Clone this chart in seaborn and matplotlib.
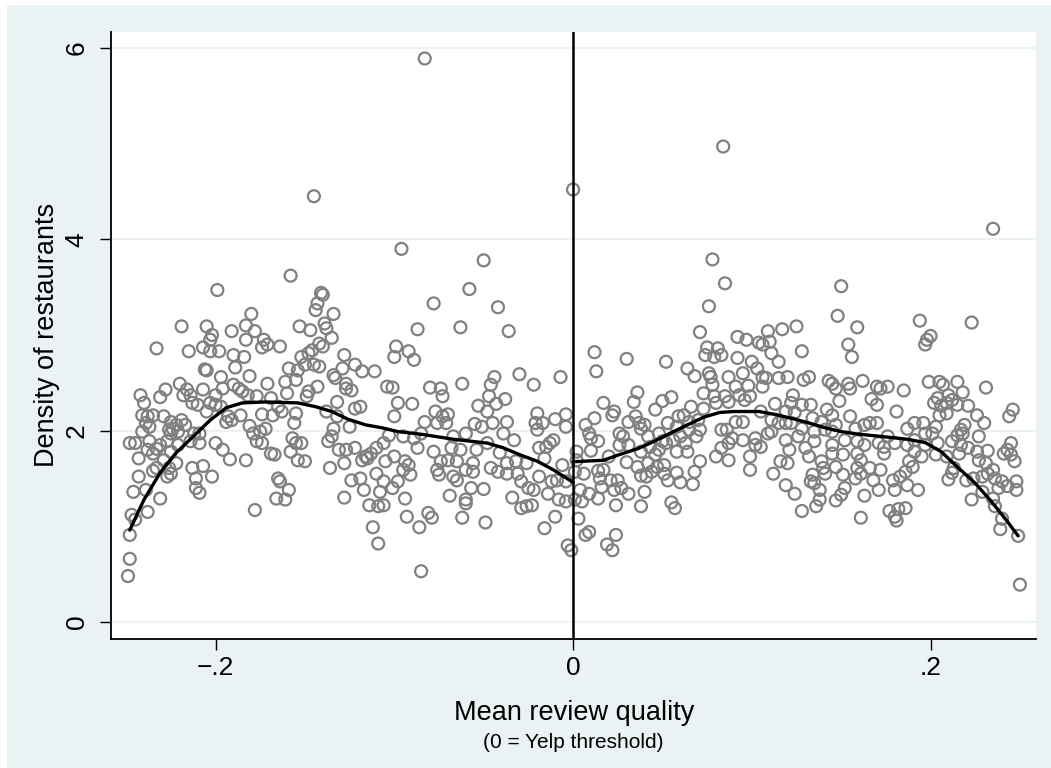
import pandas as pd
import seaborn as sns
from matplotlib import pyplot as plt
from matplotlib.patches import Rectangle

# restaurant density by mean review quality (x, y)
pts_far_left = [
    (-0.199, 3.47), (-0.180, 3.22), (-0.219, 3.09), (-0.205, 3.09), (-0.191, 3.04), (-0.183, 3.10),
    (-0.202, 3.00), (-0.203, 2.95), (-0.178, 3.04), (-0.173, 2.95), (-0.174, 2.87), (-0.171, 2.90),
    (-0.233, 2.86), (-0.215, 2.83), (-0.207, 2.87), (-0.203, 2.83), (-0.198, 2.83), (-0.190, 2.79),
    (-0.184, 2.77), (-0.183, 2.95), (-0.189, 2.66), (-0.205, 2.63), (-0.206, 2.64), (-0.197, 2.56),
    (-0.181, 2.57), (-0.220, 2.49), (-0.228, 2.43), (-0.231, 2.35), (-0.242, 2.37), (-0.240, 2.29),
    (-0.216, 2.43), (-0.214, 2.37), (-0.218, 2.37), (-0.213, 2.29), (-0.210, 2.27), (-0.207, 2.43),
    (-0.200, 2.37), (-0.196, 2.44), (-0.190, 2.48), (-0.187, 2.44), (-0.185, 2.41), (-0.182, 2.37),
    (-0.171, 2.49), (-0.177, 2.36), (-0.203, 2.29), (-0.200, 2.27), (-0.197, 2.25), (-0.205, 2.20),
    (-0.193, 2.15), (-0.194, 2.09), (-0.191, 2.11), (-0.186, 2.16), (-0.174, 2.17), (-0.181, 2.05),
    (-0.179, 1.97), (-0.175, 1.99), (-0.172, 2.02), (-0.177, 1.89), (-0.174, 1.87), (-0.241, 2.16),
    (-0.238, 2.15), (-0.235, 2.16), (-0.229, 2.15), (-0.239, 2.08), (-0.237, 2.04), (-0.241, 1.99),
    (-0.225, 2.09), (-0.224, 2.02), (-0.222, 2.06), (-0.219, 2.11), (-0.217, 2.06), (-0.226, 2.01),
    (-0.225, 1.97), (-0.221, 1.99), (-0.212, 1.97), (-0.209, 1.97), (-0.214, 1.89), (-0.209, 1.87),
    (-0.248, 1.87), (-0.245, 1.87), (-0.237, 1.89), (-0.231, 1.85), (-0.238, 1.80), (-0.233, 1.81),
    (-0.227, 1.89), (-0.221, 1.85), (-0.243, 1.71), (-0.235, 1.76), (-0.225, 1.78), (-0.229, 1.69),
    (-0.233, 1.61), (-0.235, 1.58), (-0.226, 1.61), (-0.222, 1.66), (-0.227, 1.52), (-0.225, 1.55),
    (-0.243, 1.52), (-0.213, 1.61), (-0.207, 1.63), (-0.211, 1.50), (-0.202, 1.52), (-0.211, 1.40),
    (-0.209, 1.35), (-0.200, 1.87), (-0.196, 1.80), (-0.192, 1.70), (-0.183, 1.69), (-0.246, 1.36),
    (-0.239, 1.38), (-0.231, 1.29), (-0.238, 1.15), (-0.247, 1.12), (-0.245, 1.07), (-0.248, 0.91),
    (-0.248, 0.66), (-0.249, 0.48), (-0.178, 1.17),
]

pts_mid_left = [
    (-0.158, 3.62), (-0.141, 3.44), (-0.140, 3.42), (-0.143, 3.33), (-0.144, 3.26), (-0.134, 3.22),
    (-0.153, 3.09), (-0.147, 3.05), (-0.139, 3.12), (-0.138, 3.07), (-0.135, 2.97), (-0.087, 3.06),
    (-0.164, 2.88), (-0.142, 2.91), (-0.140, 2.88), (-0.146, 2.84), (-0.148, 2.81), (-0.152, 2.77),
    (-0.128, 2.79), (-0.099, 2.88), (-0.100, 2.77), (-0.092, 2.83), (-0.089, 2.74), (-0.159, 2.65),
    (-0.154, 2.63), (-0.150, 2.69), (-0.145, 2.69), (-0.142, 2.67), (-0.129, 2.65), (-0.122, 2.69),
    (-0.118, 2.62), (-0.111, 2.62), (-0.134, 2.58), (-0.133, 2.55), (-0.161, 2.51), (-0.155, 2.53),
    (-0.127, 2.49), (-0.127, 2.44), (-0.124, 2.42), (-0.143, 2.46), (-0.148, 2.41), (-0.149, 2.36),
    (-0.160, 2.39), (-0.104, 2.46), (-0.101, 2.45), (-0.169, 2.34), (-0.165, 2.25), (-0.163, 2.20),
    (-0.168, 2.16), (-0.155, 2.18), (-0.156, 2.08), (-0.132, 2.30), (-0.122, 2.23), (-0.119, 2.25),
    (-0.138, 2.20), (-0.132, 2.15), (-0.098, 2.29), (-0.090, 2.28), (-0.100, 2.15), (-0.125, 2.04),
    (-0.134, 2.02), (-0.157, 1.92), (-0.155, 1.87), (-0.152, 1.87), (-0.158, 1.78), (-0.154, 1.69),
    (-0.150, 1.68), (-0.169, 1.76), (-0.167, 1.75), (-0.137, 1.89), (-0.135, 1.94), (-0.131, 1.80),
    (-0.127, 1.80), (-0.122, 1.82), (-0.116, 1.73), (-0.113, 1.76), (-0.110, 1.82), (-0.106, 1.87),
    (-0.103, 1.95), (-0.095, 1.94), (-0.089, 1.92), (-0.085, 1.97), (-0.087, 1.82), (-0.136, 1.61),
    (-0.128, 1.66), (-0.118, 1.69), (-0.115, 1.71), (-0.105, 1.68), (-0.100, 1.73), (-0.094, 1.68),
    (-0.092, 1.64), (-0.095, 1.59), (-0.091, 1.54), (-0.124, 1.48), (-0.119, 1.50), (-0.117, 1.38),
    (-0.110, 1.55), (-0.106, 1.47), (-0.101, 1.40), (-0.098, 1.47), (-0.108, 1.36), (-0.165, 1.50),
    (-0.164, 1.47), (-0.159, 1.38), (-0.166, 1.29), (-0.161, 1.28), (-0.128, 1.30), (-0.114, 1.22),
    (-0.109, 1.21), (-0.106, 1.22), (-0.094, 1.29), (-0.093, 1.10), (-0.086, 0.99), (-0.112, 0.99),
    (-0.109, 0.82), (-0.085, 0.53),
]

pts_near_left = [
    (-0.058, 3.48), (-0.078, 3.33), (-0.042, 3.29), (-0.063, 3.08), (-0.036, 3.04), (-0.030, 2.59),
    (-0.007, 2.56), (-0.044, 2.56), (-0.046, 2.48), (-0.080, 2.45), (-0.074, 2.44), (-0.062, 2.49),
    (-0.022, 2.48), (-0.073, 2.36), (-0.047, 2.36), (-0.038, 2.33), (-0.053, 2.26), (-0.043, 2.28),
    (-0.048, 2.20), (-0.077, 2.20), (-0.070, 2.17), (-0.073, 2.15), (-0.083, 2.09), (-0.076, 2.08),
    (-0.071, 2.08), (-0.055, 2.07), (-0.051, 2.04), (-0.045, 2.08), (-0.037, 2.09), (-0.020, 2.18),
    (-0.021, 2.08), (-0.017, 2.08), (-0.020, 2.01), (-0.010, 2.12), (-0.004, 2.17), (-0.004, 2.04),
    (-0.067, 1.94), (-0.060, 1.97), (-0.048, 1.87), (-0.039, 1.97), (-0.033, 1.90), (-0.011, 1.90),
    (-0.013, 1.87), (-0.015, 1.83), (-0.019, 1.82), (-0.078, 1.78), (-0.068, 1.82), (-0.063, 1.80),
    (-0.054, 1.80), (-0.041, 1.77), (-0.074, 1.68), (-0.070, 1.69), (-0.065, 1.68), (-0.056, 1.66),
    (-0.076, 1.59), (-0.075, 1.54), (-0.060, 1.59), (-0.056, 1.57), (-0.067, 1.52), (-0.065, 1.48),
    (-0.046, 1.61), (-0.042, 1.57), (-0.037, 1.55), (-0.037, 1.66), (-0.032, 1.68), (-0.026, 1.66),
    (-0.031, 1.55), (-0.029, 1.47), (-0.025, 1.40), (-0.022, 1.38), (-0.019, 1.52), (-0.016, 1.71),
    (-0.006, 1.64), (-0.009, 1.48), (-0.004, 1.47), (-0.012, 1.47), (-0.014, 1.34), (-0.008, 1.28),
    (-0.004, 1.26), (-0.050, 1.39), (-0.057, 1.40), (-0.069, 1.32), (-0.060, 1.28), (-0.060, 1.24),
    (-0.034, 1.30), (-0.029, 1.19), (-0.026, 1.21), (-0.023, 1.22), (-0.010, 1.10), (-0.016, 0.98),
    (-0.049, 1.04), (-0.062, 1.09), (-0.081, 1.14), (-0.079, 1.09), (-0.003, 0.80), (-0.001, 0.75),
]

pts_near_right = [
    (0.085, 3.54), (0.076, 3.30), (0.071, 3.03), (0.075, 2.87), (0.081, 2.86), (0.074, 2.79),
    (0.079, 2.77), (0.083, 2.79), (0.012, 2.82), (0.013, 2.62), (0.030, 2.75), (0.052, 2.72),
    (0.064, 2.65), (0.068, 2.57), (0.076, 2.60), (0.077, 2.56), (0.087, 2.56), (0.078, 2.48),
    (0.073, 2.39), (0.036, 2.40), (0.034, 2.30), (0.050, 2.31), (0.055, 2.35), (0.046, 2.22),
    (0.017, 2.29), (0.023, 2.20), (0.022, 2.16), (0.035, 2.15), (0.066, 2.25), (0.073, 2.23),
    (0.080, 2.29), (0.079, 2.36), (0.085, 2.36), (0.087, 2.30), (0.007, 2.06), (0.012, 2.13),
    (0.031, 2.09), (0.037, 2.08), (0.040, 2.06), (0.038, 2.02), (0.053, 2.08), (0.059, 2.15),
    (0.062, 2.16), (0.065, 2.09), (0.070, 2.11), (0.065, 2.01), (0.058, 2.04), (0.009, 1.97),
    (0.010, 1.92), (0.014, 1.89), (0.010, 1.79), (0.026, 1.97), (0.028, 1.94), (0.026, 1.85),
    (0.031, 1.85), (0.042, 1.94), (0.048, 1.97), (0.050, 1.89), (0.043, 1.83), (0.052, 1.87),
    (0.056, 1.90), (0.060, 1.94), (0.063, 1.87), (0.069, 1.94), (0.071, 2.01), (0.083, 2.01),
    (0.086, 2.01), (0.087, 1.87), (0.083, 1.82), (0.080, 1.73), (0.087, 1.69), (0.002, 1.78),
    (0.002, 1.69), (0.020, 1.73), (0.038, 1.78), (0.046, 1.75), (0.048, 1.80), (0.058, 1.78),
    (0.064, 1.78), (0.071, 1.68), (0.030, 1.67), (0.036, 1.62), (0.042, 1.66), (0.047, 1.62),
    (0.051, 1.64), (0.044, 1.57), (0.041, 1.52), (0.038, 1.53), (0.051, 1.55), (0.058, 1.56),
    (0.068, 1.57), (0.001, 1.57), (0.006, 1.55), (0.014, 1.58), (0.017, 1.59), (0.015, 1.50),
    (0.021, 1.48), (0.025, 1.48), (0.016, 1.41), (0.023, 1.38), (0.027, 1.40), (0.031, 1.34),
    (0.053, 1.48), (0.060, 1.46), (0.067, 1.44), (0.004, 1.38), (0.009, 1.34), (0.014, 1.29),
    (0.001, 1.28), (0.005, 1.26), (0.040, 1.36), (0.024, 1.22), (0.038, 1.21), (0.055, 1.25),
    (0.057, 1.19), (0.003, 1.08), (0.009, 0.94), (0.007, 0.91), (0.024, 0.91), (0.019, 0.81),
    (0.022, 0.75),
]

pts_mid_right = [
    (0.150, 3.51), (0.148, 3.20), (0.159, 3.08), (0.125, 3.09), (0.117, 3.06), (0.109, 3.04),
    (0.092, 2.98), (0.097, 2.95), (0.104, 2.92), (0.106, 2.90), (0.110, 2.93), (0.128, 2.83),
    (0.154, 2.90), (0.156, 2.77), (0.111, 2.81), (0.092, 2.76), (0.100, 2.72), (0.115, 2.72),
    (0.103, 2.65), (0.095, 2.60), (0.106, 2.56), (0.108, 2.55), (0.115, 2.55), (0.120, 2.56),
    (0.129, 2.53), (0.132, 2.56), (0.143, 2.52), (0.145, 2.49), (0.147, 2.44), (0.154, 2.49),
    (0.155, 2.44), (0.162, 2.52), (0.170, 2.46), (0.172, 2.44), (0.091, 2.46), (0.098, 2.47),
    (0.106, 2.46), (0.093, 2.37), (0.099, 2.36), (0.123, 2.37), (0.149, 2.31), (0.167, 2.33),
    (0.170, 2.27), (0.096, 2.32), (0.113, 2.28), (0.122, 2.29), (0.128, 2.27), (0.133, 2.27),
    (0.105, 2.20), (0.119, 2.20), (0.124, 2.19), (0.142, 2.22), (0.145, 2.16), (0.155, 2.15),
    (0.091, 2.09), (0.095, 2.09), (0.111, 2.11), (0.115, 2.08), (0.119, 2.08), (0.122, 2.08),
    (0.134, 2.13), (0.139, 2.09), (0.141, 2.01), (0.147, 2.06), (0.158, 2.02), (0.163, 2.06),
    (0.166, 2.08), (0.170, 2.08), (0.109, 1.97), (0.111, 1.99), (0.128, 2.02), (0.135, 1.99),
    (0.145, 1.99), (0.089, 1.92), (0.095, 1.90), (0.102, 1.92), (0.105, 1.83), (0.102, 1.85),
    (0.119, 1.90), (0.126, 1.94), (0.135, 1.89), (0.152, 1.90), (0.159, 1.89), (0.163, 1.85),
    (0.171, 1.87), (0.174, 1.83), (0.099, 1.73), (0.121, 1.80), (0.130, 1.82), (0.132, 1.73),
    (0.145, 1.85), (0.145, 1.76), (0.151, 1.75), (0.159, 1.76), (0.161, 1.69), (0.116, 1.68),
    (0.120, 1.66), (0.139, 1.68), (0.140, 1.61), (0.147, 1.62), (0.159, 1.61), (0.166, 1.61),
    (0.172, 1.59), (0.099, 1.59), (0.112, 1.55), (0.134, 1.54), (0.141, 1.55), (0.151, 1.54),
    (0.158, 1.50), (0.161, 1.55), (0.168, 1.48), (0.133, 1.47), (0.135, 1.45), (0.119, 1.43),
    (0.124, 1.34), (0.138, 1.38), (0.152, 1.40), (0.150, 1.33), (0.147, 1.27), (0.163, 1.32),
    (0.171, 1.38), (0.138, 1.28), (0.136, 1.21), (0.128, 1.16), (0.161, 1.09),
]

pts_far_right = [
    (0.194, 3.15), (0.223, 3.13), (0.200, 2.99), (0.198, 2.95), (0.197, 2.90), (0.199, 2.51),
    (0.205, 2.51), (0.207, 2.48), (0.215, 2.51), (0.231, 2.45), (0.176, 2.46), (0.185, 2.42),
    (0.204, 2.34), (0.210, 2.37), (0.212, 2.32), (0.218, 2.40), (0.202, 2.29), (0.206, 2.26),
    (0.209, 2.29), (0.215, 2.27), (0.221, 2.26), (0.181, 2.20), (0.205, 2.16), (0.209, 2.18),
    (0.226, 2.16), (0.230, 2.08), (0.246, 2.22), (0.244, 2.15), (0.187, 2.02), (0.191, 2.08),
    (0.196, 2.08), (0.203, 2.04), (0.201, 1.97), (0.197, 1.97), (0.219, 2.06), (0.217, 2.01),
    (0.218, 1.97), (0.215, 1.95), (0.227, 1.94), (0.176, 1.94), (0.174, 1.76), (0.180, 1.87),
    (0.187, 1.85), (0.191, 1.90), (0.197, 1.85), (0.204, 1.87), (0.212, 1.89), (0.217, 1.85),
    (0.221, 1.82), (0.191, 1.78), (0.195, 1.73), (0.203, 1.75), (0.209, 1.73), (0.216, 1.76),
    (0.226, 1.78), (0.232, 1.79), (0.227, 1.69), (0.231, 1.66), (0.245, 1.87), (0.243, 1.80),
    (0.241, 1.76), (0.245, 1.75), (0.247, 1.68), (0.188, 1.68), (0.190, 1.62), (0.186, 1.57),
    (0.213, 1.61), (0.212, 1.56), (0.235, 1.59), (0.232, 1.55), (0.236, 1.50), (0.183, 1.52),
    (0.179, 1.48), (0.210, 1.49), (0.220, 1.48), (0.224, 1.50), (0.229, 1.52), (0.240, 1.47),
    (0.243, 1.42), (0.248, 1.47), (0.248, 1.38), (0.238, 1.40), (0.180, 1.38), (0.187, 1.43),
    (0.193, 1.38), (0.223, 1.28), (0.229, 1.36), (0.235, 1.29), (0.236, 1.21), (0.177, 1.16),
    (0.182, 1.18), (0.186, 1.19), (0.180, 1.10), (0.181, 1.06), (0.240, 1.08), (0.239, 0.97),
    (0.249, 0.90), (0.250, 0.39),
]

pts_outliers = [
    (-0.083, 5.89), (-0.145, 4.45), (-0.096, 3.90), (-0.050, 3.78), (0.000, 4.52),
    (0.084, 4.97), (0.235, 4.11), (0.078, 3.79),
]

# smoothed fit on each side of the threshold
fit_left_x = [-0.248, -0.240, -0.231, -0.222, -0.213, -0.203, -0.194, -0.185, -0.172, -0.154,
              -0.144, -0.135, -0.126, -0.116, -0.107, -0.098, -0.084, -0.067, -0.048, -0.039,
              -0.030, -0.020, -0.011, 0.0]
fit_left_y = [0.96, 1.28, 1.56, 1.77, 1.93, 2.11, 2.24, 2.29, 2.30, 2.29, 2.25, 2.20, 2.12, 2.06,
              2.03, 1.99, 1.96, 1.91, 1.87, 1.82, 1.75, 1.68, 1.59, 1.46]
fit_right_x = [0.0, 0.017, 0.026, 0.036, 0.045, 0.054, 0.064, 0.073, 0.082, 0.090, 0.104, 0.113,
               0.122, 0.132, 0.141, 0.150, 0.159, 0.172, 0.187, 0.197, 0.206, 0.215, 0.225,
               0.234, 0.243, 0.249]
fit_right_y = [1.675, 1.69, 1.75, 1.81, 1.885, 1.97, 2.06, 2.14, 2.19, 2.20, 2.20, 2.17, 2.13,
               2.08, 2.03, 1.99, 1.965, 1.94, 1.91, 1.875, 1.78, 1.62, 1.45, 1.26, 1.05, 0.90]

y_ticks = [0, 2, 4, 6]
x_ticks = [-0.2, 0.0, 0.2]
x_tick_labels = ["\u2212.2", "0", ".2"]

sns.set_theme(style="white")
plt.rcParams['font.family'] = ['Liberation Sans', 'DejaVu Sans']
plt.rcParams['text.color'] = 'black'

panel = "#eaf2f3"
all_pts = (pts_far_left + pts_mid_left + pts_near_left + pts_near_right
           + pts_mid_right + pts_far_right + pts_outliers)
df = pd.DataFrame(all_pts, columns=["quality", "density"])

fig = plt.figure(figsize=(10.51, 7.68), dpi=100)
fig.patch.set_facecolor("white")
bg = Rectangle((7 / 1051, 0), 1 - 7 / 1051, 1 - 5 / 768, transform=fig.transFigure,
               facecolor=panel, edgecolor="none", zorder=-10)
fig.add_artist(bg)

ax = fig.add_axes([111 / 1051, 1 - 639 / 768, 925 / 1051, 607 / 768])
ax.set_zorder(1)
ax.set_facecolor("white")

sns.scatterplot(data=df, x="quality", y="density", ax=ax, marker="o", s=74,
                color="#808080", linewidth=1.6, zorder=3)
ax.collections[-1].set_facecolor("none")
ax.collections[-1].set_edgecolor("#808080")

ax.axvline(0, color="black", lw=1.8, zorder=4)
sns.lineplot(x=fit_left_x, y=fit_left_y, ax=ax, color="black", lw=2.4, sort=False, zorder=5)
sns.lineplot(x=fit_right_x, y=fit_right_y, ax=ax, color="black", lw=2.4, sort=False, zorder=5)

ax.set_xlim(-0.2585, 0.259)
ax.set_ylim(-0.178, 6.167)
ax.set_yticks(y_ticks)
ax.set_xticks(x_ticks)
ax.set_xticklabels(x_tick_labels)
ax.grid(axis="y", color=panel, lw=1.5)
ax.grid(axis="x", visible=False)
ax.set_axisbelow(True)
for side in ["top", "right"]:
    ax.spines[side].set_visible(False)
for side in ["left", "bottom"]:
    ax.spines[side].set_color("black")
    ax.spines[side].set_linewidth(1.3)

ax.tick_params(axis="both", direction="out", length=8, width=1.0, color="black",
               labelsize=19, labelcolor="black", left=True, bottom=True)
ax.tick_params(axis="x", pad=4)
ax.tick_params(axis="y", pad=8, labelrotation=90)
for lab in ax.get_yticklabels():
    lab.set_va("center")
ax.set_xlabel("")
ax.set_ylabel("")

fig.text(47 / 1051, 1 - 335 / 768, "Density of restaurants", rotation=90,
         ha="center", va="center", fontsize=19.5)
fig.text(574 / 1051, 1 - 713 / 768, "Mean review quality", ha="center", va="center", fontsize=19.5)
fig.text(573 / 1051, 1 - 742 / 768, "(0 = Yelp threshold)", ha="center", va="center", fontsize=15)

fig.savefig("out.png", dpi=100, facecolor=fig.get_facecolor())
